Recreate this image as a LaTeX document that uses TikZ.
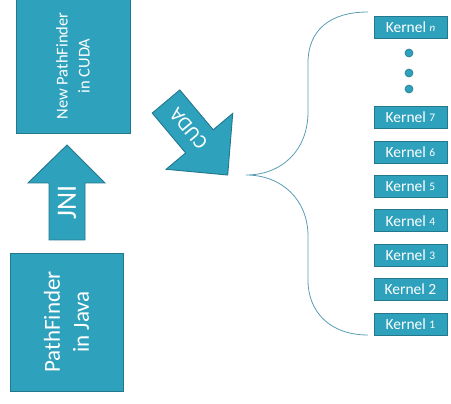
\documentclass[tikz,border=0pt]{standalone}
\usepackage{fontspec}
\setmainfont{Carlito}
\definecolor{tealfill}{HTML}{2EA1BC}
\definecolor{tealline}{HTML}{23788E}
\definecolor{bracecol}{HTML}{5A9DB3}
\newcommand{\knum}[1]{{\fontsize{11.5}{11.5}\selectfont\raisebox{1pt}{#1}}}
\begin{document}
\begin{tikzpicture}[x=1pt,y=-1pt,
  box/.style={draw=tealline, fill=tealfill, line width=0.9pt, text=white, inner sep=0pt},
  kernel/.style={box, minimum width=73pt, minimum height=22pt, font=\fontsize{15.5}{15.5}\selectfont},
  arrowshape/.style={draw=tealline, fill=tealfill, line width=0.9pt, line join=miter},
  dotstyle/.style={circle, draw=tealline, fill=tealfill, line width=0.6pt, minimum size=8pt, inner sep=0pt}]
\useasboundingbox (0,0) rectangle (451,404);

% top box
\node[box, rotate=90, minimum width=135pt, minimum height=114pt, align=center,
      font=\fontsize{16.5}{22}\selectfont] (cuda) at (73,66) {New PathFinder\\in CUDA};

% bottom box
\node[box, rotate=90, minimum width=138pt, minimum height=113pt, align=center,
      font=\fontsize{23}{29}\selectfont] (java) at (66.5,322) {PathFinder\\in Java};

% JNI arrow
\draw[arrowshape] (49,240) -- (49,183) -- (28,183) -- (67,145) -- (105,183) -- (85,183) -- (85,240) -- cycle;
\node[rotate=90, text=white, font=\fontsize{28}{28}\selectfont, inner sep=0pt] (jni) at (67,202) {JNI};

% CUDA arrow
\begin{scope}[shift={(166,101.5)}, rotate=-50]
  \draw[arrowshape] (0,18) -- (52,18) -- (52,43.5) -- (96,0) -- (52,-43.5) -- (52,-18) -- (0,-18) -- cycle;
  \coordinate (cudactr) at (35,0);
\end{scope}
\node[rotate=130, text=white, font=\fontsize{20}{20}\selectfont, inner sep=0pt] (cudalbl) at (cudactr) {CUDA};

% brace
\coordinate (btop) at (368,12);
\coordinate (btip) at (246,175);
\coordinate (bbot) at (368,335);
\draw[bracecol, line width=0.8pt] (btop) .. controls (330,12) and (308,30) .. (308,63)
  -- (308,112) .. controls (308,150) and (282,175) .. (btip)
  .. controls (282,175) and (308,200) .. (308,236)
  -- (308,280) .. controls (308,312) and (330,335) .. (bbot);

% kernels
\node[kernel] (kn) at (410.5,27.5) {Kernel {\fontsize{11}{11}\selectfont\itshape\raisebox{1.5pt}{n}}};
\node[dotstyle] (d1) at (409,53) {};
\node[dotstyle] (d2) at (409,73) {};
\node[dotstyle] (d3) at (409,89) {};
\node[kernel] (k7) at (410.5,117.6) {Kernel \knum{7}};
\node[kernel] (k6) at (410.5,152) {Kernel \knum{6}};
\node[kernel] (k5) at (410.5,186.4) {Kernel \knum{5}};
\node[kernel] (k4) at (410.5,220.8) {Kernel \knum{4}};
\node[kernel] (k3) at (410.5,255.2) {Kernel \knum{3}};
\node[kernel] (k2) at (410.5,289.6) {Kernel 2};
\node[kernel] (k1) at (410.5,324) {Kernel \knum{1}};
\end{tikzpicture}
\end{document}
